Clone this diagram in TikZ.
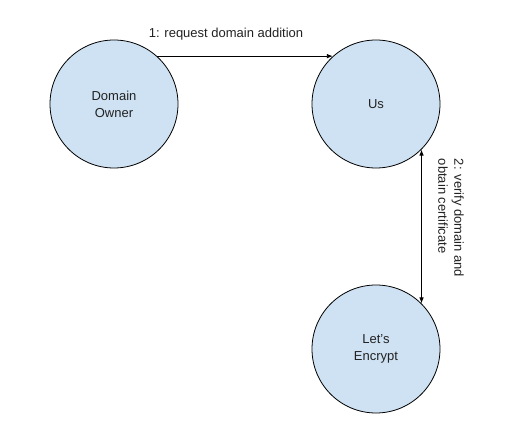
\documentclass[tikz,border=0pt]{standalone}
\usepackage{fontspec}
\setmainfont{Liberation Sans}
\usetikzlibrary{arrows.meta}
\definecolor{cfill}{HTML}{CFE2F3}
\definecolor{txt}{HTML}{222222}
\tikzset{
  entity/.style={circle, draw=black, line width=0.8pt, fill=cfill, minimum size=128pt, inner sep=0pt, align=center, text=txt, font=\fontsize{13}{17}\selectfont},
  conn/.style={line width=0.8pt, draw=black},
  tip/.style={-{Latex[length=6pt,width=4.5pt]}},
  lbl/.style={text=txt, font=\fontsize{13}{16}\selectfont, inner sep=0pt}
}
\begin{document}
\begin{tikzpicture}[x=1pt,y=-1pt]
\useasboundingbox (0,0) rectangle (525,430);
\node[entity] (do) at (114,104) {Domain\\Owner};
\node[entity] (us) at (376,104) {Us};
\node[entity] (le) at (376,349) {Let’s\\Encrypt};
\draw[conn, tip] (do.48) -- (us.132);
\draw[conn, {Latex[length=6pt,width=4.5pt]}-{Latex[length=6pt,width=4.5pt]}] (us.-45) -- (le.45);
\node[lbl] (l1) at (226,34) {1: request domain addition};
\node[lbl, rotate=-90, align=left] (l2) at (451,218) {2: verify domain and\\obtain certificate};
\end{tikzpicture}
\end{document}
